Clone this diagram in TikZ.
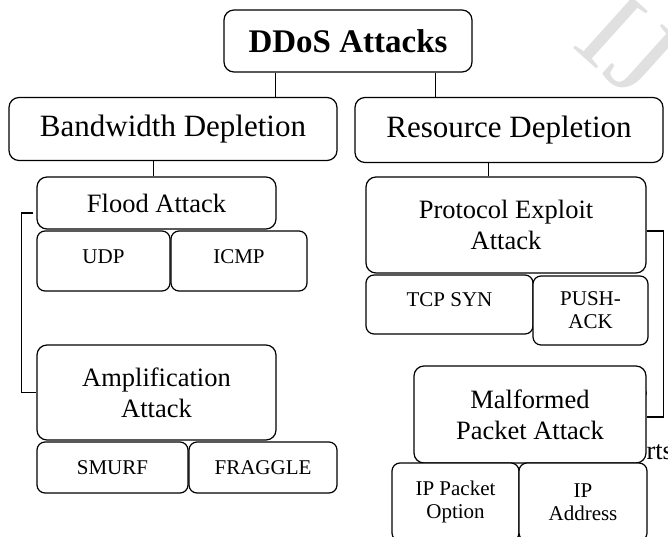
\documentclass[tikz,border=0pt]{standalone}
\usepackage{fontspec}
\setmainfont{Liberation Serif}
\begin{document}
\begin{tikzpicture}[x=1pt,y=-1pt,
  box/.style={draw=black, line width=1.2pt, rounded corners=10pt, fill=white, inner sep=0pt, align=center},
  toptext/.style={font=\fontsize{33}{38}\selectfont\bfseries},
  cattext/.style={font=\fontsize{31}{36}\selectfont},
  atktext/.style={font=\fontsize{26.5}{31}\selectfont},
  leaftext/.style={font=\fontsize{21}{23}\selectfont, rounded corners=8pt},
  lift/.style={text depth=9pt},
  link/.style={draw=black, line width=1pt}]
\useasboundingbox (0,0) rectangle (668,537);

% faint text behind the boxes
\node[text=black!12, font=\fontsize{118}{118}\selectfont, rotate=-42] (mark) at (628,46) {IJ};
\node[anchor=base west, atktext] (rts) at (643,459) {rts};
\node[anchor=base east, atktext] (stray) at (651.5,401) {e};

% top and categories
\node[box, toptext, minimum width=248pt, minimum height=62pt] (ddos) at (348,41) {DDoS Attacks};
\node[box, cattext, minimum width=328pt, minimum height=63pt] (bw) at (173,129) {Bandwidth Depletion};
\node[box, cattext, minimum width=308pt, minimum height=65pt] (rd) at (509,130) {Resource Depletion};

% bandwidth side
\node[box, atktext, minimum width=239pt, minimum height=52pt] (flood) at (156.5,203) {Flood Attack};
\node[box, leaftext, lift, minimum width=133pt, minimum height=60pt] (udp) at (103.5,261) {UDP};
\node[box, leaftext, lift, minimum width=136pt, minimum height=60pt] (icmp) at (239,261) {ICMP};
\node[box, atktext, minimum width=239pt, minimum height=95pt] (amp) at (156.5,392.5) {Amplification\\Attack};
\node[box, leaftext, minimum width=151pt, minimum height=51pt] (smurf) at (112.5,467.5) {SMURF};
\node[box, leaftext, minimum width=148pt, minimum height=51pt] (fraggle) at (263,467.5) {FRAGGLE};

% resource side
\node[box, atktext, minimum width=280pt, minimum height=96pt] (proto) at (506,225) {Protocol Exploit\\Attack};
\node[box, leaftext, lift, minimum width=167pt, minimum height=59pt] (tcp) at (449.5,304.5) {TCP SYN};
\node[box, leaftext, minimum width=115pt, minimum height=69pt] (push) at (590.5,310.5) {PUSH-\\ACK};
\node[box, atktext, minimum width=232pt, minimum height=97pt] (malf) at (530,414.5) {Malformed\\Packet Attack};
\node[box, leaftext, minimum width=127pt, minimum height=78pt] (ipopt) at (455.5,502) {IP Packet\\Option};
\node[box, leaftext, minimum width=128pt, minimum height=78pt] (ipaddr) at (583,502) {IP\\Address};

% connectors
\draw[link] ([xshift=-73pt]ddos.south) -- ([xshift=-73pt]ddos.south |- bw.north);
\draw[link] ([xshift=87pt]ddos.south) -- ([xshift=87pt]ddos.south |- rd.north);
\draw[link] ([xshift=-3.5pt]flood.north |- bw.south) -- ([xshift=-3.5pt]flood.north);
\draw[link] ([xshift=-18pt]proto.north |- rd.south) -- ([xshift=-18pt]proto.north);
\draw[link, line width=1.2pt] ([xshift=-3pt,yshift=-10pt]flood.west) -| ([xshift=-15pt]amp.west) -- (amp.west);
\draw[link, line width=1.2pt] ([yshift=-6pt]proto.east) -| ([xshift=17pt,yshift=-2.5pt]malf.east) -- ([yshift=-2.5pt]malf.east);
\end{tikzpicture}
\end{document}
